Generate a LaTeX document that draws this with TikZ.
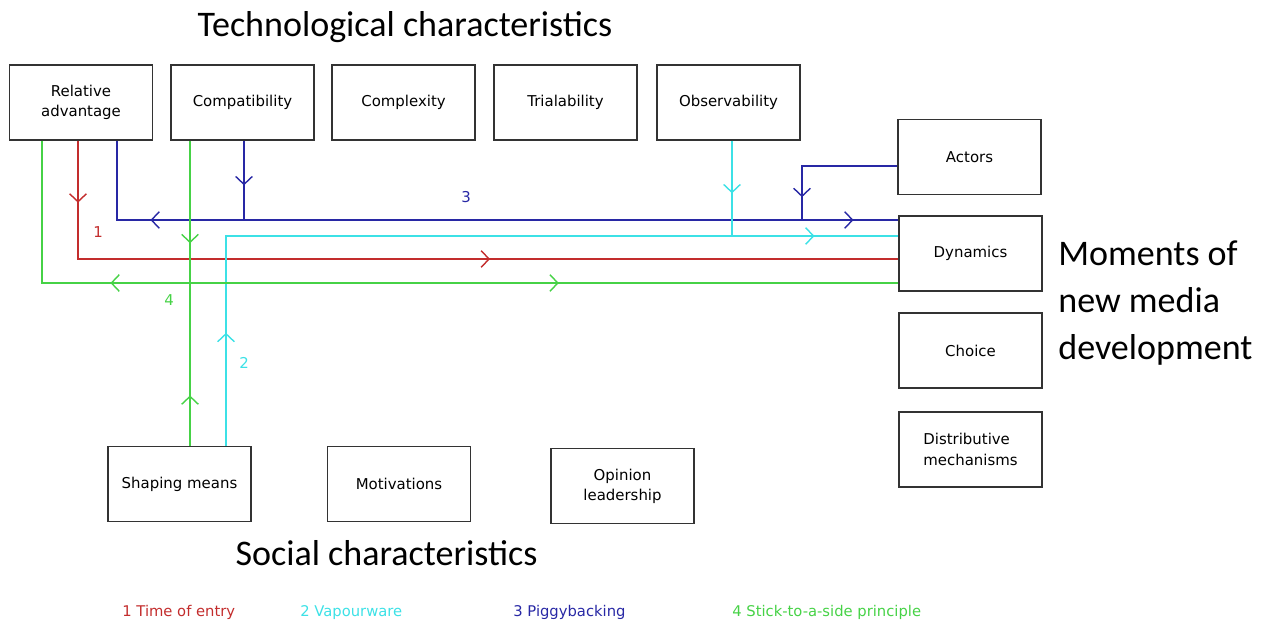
\documentclass[tikz,border=0pt]{standalone}
\usepackage{fontspec}
\setmainfont{DejaVu Sans}
\newfontfamily\headfont{Carlito}
\usetikzlibrary{arrows.meta,decorations.markings}

\definecolor{timecol}{RGB}{195,45,45}
\definecolor{vapourcol}{RGB}{60,225,230}
\definecolor{piggycol}{RGB}{40,40,165}
\definecolor{sidecol}{RGB}{70,210,70}

\tikzset{
  charbox/.style={draw=black!80, line width=0.85pt, minimum width=2.86cm, minimum height=1.5cm, inner sep=1pt, align=center, font=\fontsize{8.5}{11.5}\selectfont},
  headline/.style={inner sep=0pt, font=\headfont\fontsize{20.5}{26.5}\selectfont},
  legendtext/.style={anchor=base west, inner sep=0pt, font=\fontsize{8.4}{10}\selectfont},
  linelabel/.style={inner sep=0pt, font=\fontsize{8.5}{10}\selectfont},
  flowline/.style={line width=0.8pt},
  fwd/.style={postaction={decorate,decoration={markings,mark=at position #1 with {\arrow{Straight Barb[length=4.5pt,width=9.5pt]}}}}},
  bwd/.style={postaction={decorate,decoration={markings,mark=at position #1 with {\arrowreversed{Straight Barb[length=4.5pt,width=9.5pt]}}}}}
}

\begin{document}
\begin{tikzpicture}[x=0.02cm, y=-0.02cm]
\useasboundingbox (0,0) rectangle (1270,624);

\node[headline, anchor=base] (techhead) at (405,37) {Technological characteristics};
\node[headline, anchor=base] (socialhead) at (386.5,565) {Social characteristics};
\node[headline, anchor=west, align=left] (moments) at (1058,303) {Moments of\\new media\\development};

\node[charbox] (reladv) at (81,102.5) {Relative\\advantage};
\node[charbox] (compat) at (242.5,102.5) {Compatibility};
\node[charbox] (complex) at (403.5,102.5) {Complexity};
\node[charbox] (trial) at (565.5,102.5) {Trialability};
\node[charbox] (observ) at (728.5,102.5) {Observability};

\node[charbox] (actors) at (969.5,157) {Actors};
\node[charbox] (dyn) at (970.5,253.5) {Dynamics};
\node[charbox] (choice) at (970.5,350.5) {Choice};
\node[charbox, align=left] (distrib) at (970.5,449.5) {Distributive\\mechanisms};

\node[charbox] (shaping) at (179.5,484) {Shaping means};
\node[charbox] (motiv) at (399,484) {Motivations};
\node[charbox] (opinion) at (622.5,486) {Opinion\\leadership};

\coordinate (r1) at (78,259);
\coordinate (p1) at (117,220);
\coordinate (p2) at (244,220);
\coordinate (p3) at (802,220);
\coordinate (p4) at (802,166);
\coordinate (v1) at (226,236);
\coordinate (v2) at (732,236);
\coordinate (s1) at (42,283);
\coordinate (s2) at (190,283);

\draw[flowline, color=timecol, fwd=0.066, fwd=0.565] (reladv.south -| r1) -- (r1) -- (r1 -| dyn.west);

\draw[flowline, color=piggycol, bwd=0.131, fwd=0.948] (reladv.south -| p1) -- (p1) -- (p1 -| dyn.west);
\draw[flowline, color=piggycol, fwd=0.5625] (compat.south -| p2) -- (p2);
\draw[flowline, color=piggycol, fwd=0.847] (actors.west |- p4) -- (p4) -- (p3);

\draw[flowline, color=vapourcol, fwd=0.128, fwd=0.905] (shaping.north -| v1) -- (v1) -- (v1 -| dyn.west);
\draw[flowline, color=vapourcol, fwd=0.552] (observ.south -| v2) -- (v2);

\draw[flowline, color=sidecol, bwd=0.211, fwd=0.66] (reladv.south -| s1) -- (s1) -- (s1 -| dyn.west);
\draw[flowline, color=sidecol, fwd=0.336, bwd=0.835] (compat.south -| s2) -- (shaping.north -| s2);

\node[linelabel, text=piggycol] (lab3) at (466,197) {3};
\node[linelabel, text=timecol] (lab1) at (98,232) {1};
\node[linelabel, text=sidecol] (lab4) at (169,300) {4};
\node[linelabel, text=vapourcol] (lab2) at (244,363) {2};

\node[legendtext, text=timecol] (legtime) at (122,616) {1 Time of entry};
\node[legendtext, text=vapourcol] (legvapour) at (300,616) {2 Vapourware};
\node[legendtext, text=piggycol] (legpiggy) at (513,616) {3 Piggybacking};
\node[legendtext, text=sidecol] (legside) at (732,616) {4 Stick-to-a-side principle};

\end{tikzpicture}
\end{document}
